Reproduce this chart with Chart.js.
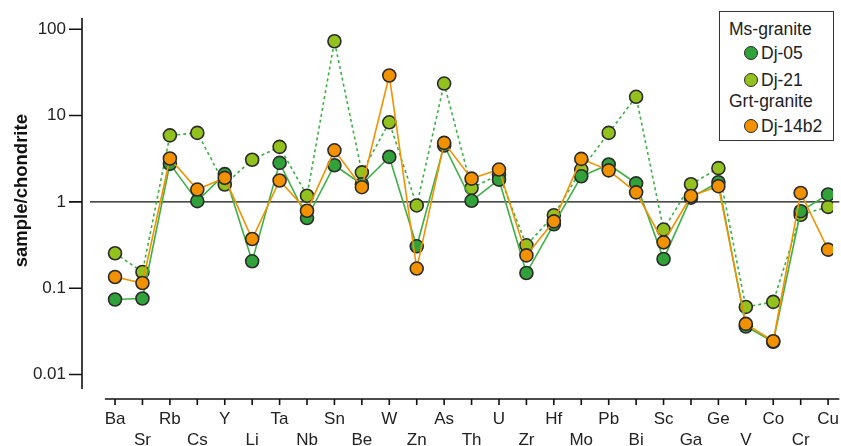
<!DOCTYPE html>
<html>
<head>
<meta charset="utf-8">
<script src="https://cdn.jsdelivr.net/npm/chart.js@4.4.1/dist/chart.umd.min.js"></script>
<style>
  body { margin: 0; background: #fff; font-family: "Liberation Sans", Arial, sans-serif; }
  #wrap { position: relative; width: 841px; height: 446px; }
  #legend {
    position: absolute; left: 719px; top: 11px; width: 113px; height: 128px;
    border: 1.5px solid #333; background: #fff; color: #222; font-size: 17.5px;
  }
  #legend div { position: absolute; white-space: nowrap; line-height: 20px; }
  #legend .dot {
    position: absolute; width: 12px; height: 12px; border-radius: 50%;
    border: 1px solid #2b2b2b;
  }
</style>
</head>
<body>
<div id="wrap">
  <canvas id="chart"></canvas>
  <div id="legend"></div>
</div>
<script>
// elements, normalised to chondrite
const elements = ['Ba', 'Sr', 'Rb', 'Cs', 'Y', 'Li', 'Ta', 'Nb', 'Sn', 'Be', 'W', 'Zn', 'As', 'Th',
                  'U', 'Zr', 'Hf', 'Mo', 'Pb', 'Bi', 'Sc', 'Ga', 'Ge', 'V', 'Co', 'Cr', 'Cu'];

// Ms-granite
const dj05 = [0.074, 0.076, 2.76, 1.02, 2.1, 0.205, 2.83, 0.65, 2.66, 1.6, 3.32, 0.306, 4.5, 1.03,
              1.81, 0.150, 0.55, 1.98, 2.71, 1.64, 0.218, 1.12, 1.69, 0.036, 0.024, 0.78, 1.22];
const dj21 = [0.254, 0.154, 5.9, 6.3, 1.59, 3.08, 4.34, 1.18, 72.6, 2.2, 8.36, 0.91, 23.5, 1.45,
              2.07, 0.314, 0.70, 2.37, 6.3, 16.5, 0.478, 1.6, 2.46, 0.0607, 0.0694, 0.71, 0.875];
// Grt-granite
const dj14b2 = [0.135, 0.115, 3.18, 1.39, 1.9, 0.372, 1.77, 0.79, 3.96, 1.48, 29.1, 0.169, 4.83, 1.86,
                2.37, 0.24, 0.595, 3.15, 2.32, 1.29, 0.34, 1.17, 1.52, 0.0386, 0.0243, 1.27, 0.28];

const yTicks = [0.01, 0.1, 1, 10, 100];

const GREEN = '#31a23a';
const LIME = '#93c11d';
const ORANGE = '#f39200';
const LINE_GREEN = '#3cb043';
const EDGE = '#2b2b2b';
const FONT = '"Liberation Sans", Arial, sans-serif';

// x range of the drawn axis lines (in category units)
const X_LINE_START = -0.37;
const X_LINE_END = 26.41;

function toPoints(values) {
    return values.map((v, i) => ({ x: i, y: v }));
}

// axis lines drawn offset from the plot, like the original figure
const axesPlugin = {
    id: 'axesPlugin',
    beforeDatasetsDraw(chart) {
        const { ctx, chartArea, scales } = chart;
        const y1 = scales.y.getPixelForValue(1);
        ctx.save();
        ctx.strokeStyle = '#111';
        ctx.lineWidth = 1.3;
        ctx.beginPath();
        ctx.moveTo(chartArea.left, y1);
        ctx.lineTo(scales.x.getPixelForValue(X_LINE_END), y1);
        ctx.stroke();
        ctx.restore();
    },
    afterDraw(chart) {
        const { ctx, chartArea, scales } = chart;
        ctx.save();
        ctx.strokeStyle = '#111';
        ctx.lineWidth = 1.6;
        // y axis
        const ax = chartArea.left - 8;
        ctx.beginPath();
        ctx.moveTo(ax, chartArea.top);
        ctx.lineTo(ax, chartArea.bottom);
        yTicks.forEach(t => {
            const py = scales.y.getPixelForValue(t);
            ctx.moveTo(ax - 13, py);
            ctx.lineTo(ax, py);
        });
        ctx.stroke();
        // x axis
        const ay = chartArea.bottom + 10;
        ctx.beginPath();
        ctx.moveTo(scales.x.getPixelForValue(X_LINE_START), ay);
        ctx.lineTo(scales.x.getPixelForValue(X_LINE_END), ay);
        elements.forEach((e, i) => {
            const px = scales.x.getPixelForValue(i);
            ctx.moveTo(px, ay);
            ctx.lineTo(px, ay + 6);
        });
        ctx.stroke();
        ctx.restore();
    }
};

const ctx = document.getElementById('chart').getContext('2d');
new Chart(ctx, {
    type: 'line',
    data: {
        datasets: [
            {
                label: 'Dj-14b2',
                data: toPoints(dj14b2),
                borderColor: ORANGE,
                backgroundColor: ORANGE,
                borderWidth: 1.6,
                pointBackgroundColor: ORANGE,
                pointBorderColor: EDGE,
                order: 1
            },
            {
                label: 'Dj-05',
                data: toPoints(dj05),
                borderColor: LINE_GREEN,
                backgroundColor: GREEN,
                borderWidth: 1.6,
                pointBackgroundColor: GREEN,
                pointBorderColor: EDGE,
                order: 2
            },
            {
                label: 'Dj-21',
                data: toPoints(dj21),
                borderColor: LINE_GREEN,
                backgroundColor: LIME,
                borderWidth: 1.6,
                borderDash: [3, 3],
                pointBackgroundColor: LIME,
                pointBorderColor: EDGE,
                order: 3
            }
        ]
    },
    options: {
        responsive: true,
        maintainAspectRatio: false,
        animation: false,
        layout: { padding: { top: 18, right: 0, left: 0, bottom: 0 } },
        elements: {
            point: { radius: 6.5, borderWidth: 1, hoverRadius: 6.5 },
            line: { tension: 0 }
        },
        scales: {
            x: {
                type: 'linear',
                min: -0.913,
                max: 26.175,
                afterFit: s => {
                    s.height = 57;
                    s.paddingLeft = 0;
                    s.paddingRight = 0;
                },
                afterBuildTicks: s => { s.ticks = elements.map((e, i) => ({ value: i })); },
                grid: { display: false, drawTicks: false },
                border: { display: false },
                ticks: {
                    autoSkip: false,
                    maxRotation: 0,
                    padding: 20,
                    color: '#222',
                    font: { family: FONT, size: 17, lineHeight: 1.22 },
                    callback: v => (v % 2 === 0 ? [elements[v], ''] : ['', elements[v]])
                }
            },
            y: {
                type: 'logarithmic',
                min: 0.0068,
                max: 135,
                afterFit: s => {
                    s.width = 90;
                    s.paddingTop = 0;
                    s.paddingBottom = 0;
                },
                afterBuildTicks: s => { s.ticks = yTicks.map(v => ({ value: v })); },
                grid: { display: false, drawTicks: false },
                border: { display: false },
                ticks: {
                    padding: 24,
                    color: '#222',
                    font: { family: FONT, size: 17 },
                    callback: v => String(v)
                },
                title: {
                    display: true,
                    text: '     sample/chondrite',
                    color: '#111',
                    padding: { top: 11, bottom: 0 },
                    font: { family: FONT, size: 18.5, weight: 'bold' }
                }
            }
        },
        plugins: {
            legend: { display: false },
            tooltip: { enabled: false }
        }
    },
    plugins: [axesPlugin]
});

// legend with group headings
const legendRows = [
    { text: 'Ms-granite', y: 17 },
    { text: 'Dj-05', y: 41, color: GREEN },
    { text: 'Dj-21', y: 68, color: LIME },
    { text: 'Grt-granite', y: 89 },
    { text: 'Dj-14b2', y: 114, color: ORANGE }
];
const legend = document.getElementById('legend');
legendRows.forEach(r => {
    const row = document.createElement('div');
    row.textContent = r.text;
    row.style.top = (r.y - 10) + 'px';
    row.style.left = r.color ? '41px' : '9px';
    legend.appendChild(row);
    if (r.color) {
        const dot = document.createElement('span');
        dot.className = 'dot';
        dot.style.background = r.color;
        dot.style.left = '24px';
        dot.style.top = (r.y - 7) + 'px';
        legend.appendChild(dot);
    }
});
</script>
</body>
</html>
